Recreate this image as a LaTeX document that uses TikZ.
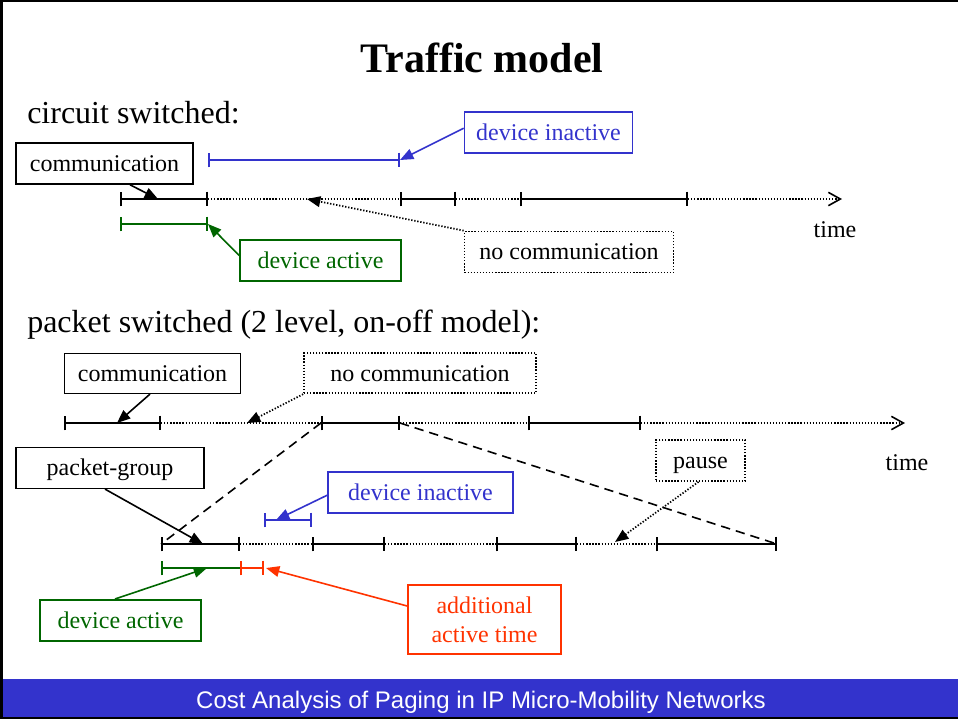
\documentclass[tikz,border=0pt]{standalone}
\usepackage{fontspec}
\setmainfont{Liberation Serif}
\newfontfamily\arialfont{Liberation Sans}
\usetikzlibrary{arrows.meta,calc}
\definecolor{cblue}{HTML}{3333CC}
\definecolor{cgreen}{HTML}{006600}
\definecolor{cred}{HTML}{FF3300}
\begin{document}
\begin{tikzpicture}[x=0.75pt,y=-0.75pt,
  lbl/.style={font=\fontsize{18}{21.6}\selectfont, inner sep=0pt, align=center, text height=15.3pt, text depth=3.6pt},
  bx/.style n args={2}{lbl, minimum width=#1*0.75pt, minimum height=#2*0.75pt},
  sbox/.style={draw, line width=1.2pt},
  dbox/.style={draw, line width=1.3pt, dash pattern=on 1pt off 1.3pt},
  seg/.style={line width=1.5pt},
  bars/.style={{Bar[width=11pt]}-{Bar[width=11pt]}},
  lbar/.style={{Bar[width=11pt]}-},
  dseg/.style={line width=1.3pt, dash pattern=on 1pt off 1.3pt},
  dashseg/.style={line width=1.2pt, dash pattern=on 7pt off 4.5pt},
  ptr/.style={-{Triangle[length=10pt,width=8pt]}, line width=1.2pt},
  timearrow/.style={-{Straight Barb[length=9pt,width=10pt,line width=1.2pt]}},
  head/.style={font=\fontsize{24}{28}\selectfont, inner sep=0pt},
  timelbl/.style={font=\fontsize{18}{21.6}\selectfont, inner sep=0pt}
]
\useasboundingbox (0,0) rectangle (958,719);
% frame and footer
\fill[cblue] (3,679) rectangle (958,717);
\draw[line width=1.5pt] (0,1) -- (958,1);
\draw[line width=2.25pt] (1.5,0) -- (1.5,719);
\draw[line width=1.5pt] (0,718) -- (958,718);
\node[font=\arialfont\fontsize{18}{21}\selectfont, text=white, inner sep=0pt, anchor=base] (foot) at (481,708) {Cost Analysis of Paging in IP Micro-Mobility Networks};

% title and headings
\node[font=\bfseries\fontsize{31.5}{36}\selectfont, inner sep=0pt, anchor=base] (title) at (482,72) {Traffic model};
\node[head, anchor=base west] (h1) at (27,123) {circuit switched:};
\node[head, anchor=base west] (h2) at (27,332) {packet switched (2 level, on-off model):};

% ---------- circuit switched ----------
\coordinate (a0) at (120,199);
\coordinate (a1) at (208,199);
\coordinate (a2) at (400,199);
\coordinate (a3) at (456,199);
\coordinate (a4) at (520,199);
\coordinate (a5) at (688,199);
\coordinate (aend) at (842,199);
\draw[seg,bars] (a0) -- (a1);
\draw[dseg] (a1) -- (a2);
\draw[seg,bars] (a2) -- (a3);
\draw[dseg] (a3) -- (a4);
\draw[seg,bars] (a4) -- (a5);
\draw[dseg,timearrow] (a5) -- (aend);

\coordinate (bi0) at (208,160);
\coordinate (bi1) at (400,160);
\draw[cblue,seg,bars] (bi0) -- (bi1);
\coordinate (ga0) at (120,224);
\coordinate (ga1) at (208,224);
\draw[cgreen,seg,bars] (ga0) -- (ga1);

\node[bx={177}{41}, sbox] (comm1) at (104.5,163.5) {communication};
\node[bx={168}{41}, sbox, draw=cblue, text=cblue] (dinact1) at (548.5,132.2) {device inactive};
\node[bx={161}{41}, sbox, draw=cgreen, text=cgreen] (dact1) at (320.5,260.5) {device active};
\node[bx={209}{41}, dbox] (nocomm1) at (569,252) {no communication};
\node[timelbl, anchor=base] (time1) at (835,237) {time};

\coordinate (ct1) at (158,199);
\coordinate (nt1) at (307,199);
\draw[ptr] ($(comm1.south)+(25.5,0)$) -- (ct1);
\draw[ptr,cblue] ($(dinact1.west)+(0,-4)$) -- (bi1);
\draw[ptr,cgreen] ($(dact1.west)+(0,-5)$) -- (ga1);
\draw[ptr,dseg] (nocomm1.north west) -- (nt1);

% ---------- packet switched ----------
\coordinate (b0) at (64,423);
\coordinate (b1) at (161,423);
\coordinate (b2) at (321,423);
\coordinate (b3) at (400,423);
\coordinate (b4) at (528,423);
\coordinate (b5) at (641,423);
\coordinate (bend) at (905,423);
\draw[seg,bars] (b0) -- (b1);
\draw[dseg] (b1) -- (b2);
\draw[seg,bars] (b2) -- (b3);
\draw[dseg] (b3) -- (b4);
\draw[seg,bars] (b4) -- (b5);
\draw[dseg,timearrow] (b5) -- (bend);

\coordinate (c0) at (161,544);
\coordinate (c1) at (240,544);
\coordinate (c2) at (312,544);
\coordinate (c3) at (385,544);
\coordinate (c4) at (496,544);
\coordinate (c5) at (577,544);
\coordinate (c6) at (656,544);
\coordinate (c7) at (777,544);
\draw[seg,bars] (c0) -- (c1);
\draw[dseg] (c1) -- (c2);
\draw[seg,bars] (c2) -- (c3);
\draw[dseg] (c3) -- (c4);
\draw[seg,bars] (c4) -- (c5);
\draw[dseg] (c5) -- (c6);
\draw[seg,bars] (c6) -- (c7);

\draw[dashseg] (b2) -- (c0);
\draw[dashseg] (b3) -- (c7);

\coordinate (di0) at (264,520);
\coordinate (di1) at (312,520);
\draw[cblue,seg,bars] (di0) -- (di1);
\coordinate (da0) at (161,568);
\coordinate (da1) at (240,568);
\coordinate (ra1) at (264,568);
\draw[cgreen,seg,lbar] (da0) -- (da1);
\draw[cred,seg,bars] (da1) -- (ra1);

\node[bx={176}{40}, sbox] (comm2) at (152.5,373.3) {communication};
\node[bx={232}{40}, dbox] (nocomm2) at (420,373.3) {no communication};
\node[bx={89}{41}, dbox] (pause) at (700.5,460.5) {pause};
\node[timelbl, anchor=base] (time2) at (907,470) {time};
\node[bx={188}{41}, sbox] (pg) at (110,467.8) {packet-group};
\node[bx={185}{41}, sbox, draw=cblue, text=cblue] (dinact2) at (420.5,492.2) {device inactive};
\node[bx={161}{41}, sbox, draw=cgreen, text=cgreen] (dact2) at (120.5,620.3) {device active};
\node[lbl, minimum width=153*0.75pt, minimum height=69*0.75pt, sbox, draw=cred, text=cred, text height=, text depth=] (addl) at (484.5,619.5) {additional\\active time};

\coordinate (ct2) at (117,423);
\coordinate (nt2) at (247,423);
\coordinate (pt) at (615,542);
\coordinate (gt) at (203,544);
\coordinate (dit) at (276,520);
\coordinate (dat) at (207,568);
\coordinate (rt) at (266,568);
\draw[ptr] ($(comm2.south)+(-2.5,0)$) -- (ct2);
\draw[ptr,dseg] (nocomm2.south west) -- (nt2);
\draw[ptr,dseg] ($(pause.south)+(-2,0)$) -- (pt);
\draw[ptr] ($(pg.south)+(-5,0)$) -- (gt);
\draw[ptr,cblue] ($(dinact2.west)+(0,3)$) -- (dit);
\draw[ptr,cgreen] ($(dact2.north)+(-5.5,0)$) -- (dat);
\draw[ptr,cred] ($(addl.west)+(0,-13.5)$) -- (rt);
\end{tikzpicture}
\end{document}
